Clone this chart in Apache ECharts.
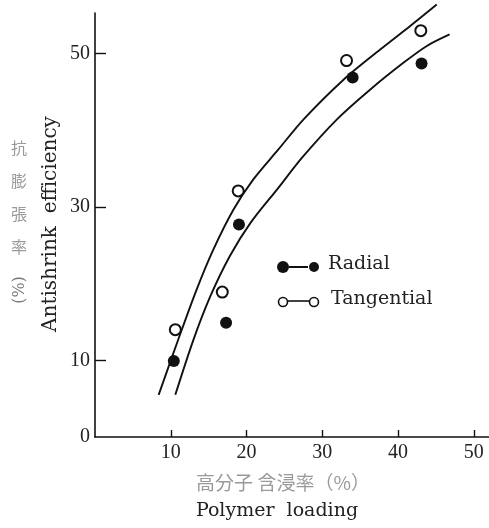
<!DOCTYPE html>
<html>
<head>
<meta charset="utf-8">
<script src="https://cdn.jsdelivr.net/npm/echarts@6/dist/echarts.min.js"></script>
<style>
  html, body { margin: 0; padding: 0; background: #fff; }
  #chart { width: 489px; height: 528px; }
</style>
</head>
<body>
<div id="chart"></div>
<script>
// Measured specimens: polymer loading (%) vs antishrink efficiency (%)
const radialLoading = [10.4, 17.3, 19.0, 34.0, 43.1];
const radialASE = [9.9, 14.9, 27.7, 46.9, 48.7];
const tangentialLoading = [10.6, 16.8, 18.9, 33.2, 43.0];
const tangentialASE = [14.0, 18.9, 32.1, 49.1, 53.0];

// Hand-drawn trend curves (tangential above, radial below)
const tangentialCurveX = [8.4, 11.2, 13.4, 15.6, 18.3, 20.9, 24.2, 27.5, 32.8, 37.6, 41.6, 45.1];
const tangentialCurveY = [5.5, 13.3, 19.2, 24.4, 29.7, 33.6, 37.5, 41.4, 46.6, 50.5, 53.6, 56.4];
const radialCurveX = [10.6, 13.0, 15.2, 17.8, 20.5, 24.2, 27.3, 31.9, 36.3, 40.7, 43.8, 46.8];
const radialCurveY = [5.5, 12.7, 18.3, 23.6, 27.9, 32.5, 36.4, 41.4, 45.3, 48.8, 51.0, 52.5];

// Axis ticks and labels
const xTicks = [10, 20, 30, 40, 50];
const yTicks = [10, 30, 50];
const yLabels = [0, 10, 30, 50];

const zip = (xs, ys) => xs.map((x, i) => [x, ys[i]]);

const SERIF = '"DejaVu Serif", "Liberation Serif", serif';
const CJK = '"Noto Sans CJK JP", "Noto Sans CJK SC", sans-serif';

const chart = echarts.init(document.getElementById('chart'), null, { renderer: 'canvas' });

const axisLineStyle = { color: '#111', width: 1.6 };

chart.setOption({
  backgroundColor: '#fff',
  animation: false,
  grid: { left: 95, right: 0, top: 13, bottom: 91, containLabel: false },
  xAxis: {
    type: 'value',
    min: 0,
    max: 52,
    axisLine: { show: true, lineStyle: axisLineStyle },
    axisTick: { show: true, inside: true, length: 7, customValues: xTicks, lineStyle: { color: '#111', width: 1.4 } },
    axisLabel: { customValues: xTicks, margin: 6, color: '#222', fontFamily: 'Liberation Serif', fontSize: 20 },
    splitLine: { show: false }
  },
  yAxis: {
    type: 'value',
    min: 0,
    max: 55.3,
    axisLine: { show: true, lineStyle: axisLineStyle },
    axisTick: { show: true, inside: true, length: 11, customValues: yTicks, lineStyle: { color: '#111', width: 1.4 } },
    axisLabel: { customValues: yLabels, margin: 5, color: '#222', fontFamily: 'Liberation Serif', fontSize: 20 },
    splitLine: { show: false }
  },
  series: [
    {
      name: 'Tangential curve',
      type: 'line',
      data: zip(tangentialCurveX, tangentialCurveY),
      smooth: 0.3,
      showSymbol: false,
      clip: false,
      lineStyle: { color: '#111', width: 1.9 },
      z: 2
    },
    {
      name: 'Radial curve',
      type: 'line',
      data: zip(radialCurveX, radialCurveY),
      smooth: 0.3,
      showSymbol: false,
      clip: false,
      lineStyle: { color: '#111', width: 1.9 },
      z: 2
    },
    {
      name: 'Radial',
      type: 'scatter',
      data: zip(radialLoading, radialASE),
      symbol: 'circle',
      symbolSize: 12,
      itemStyle: { color: '#111', opacity: 1 },
      z: 3
    },
    {
      name: 'Tangential',
      type: 'scatter',
      data: zip(tangentialLoading, tangentialASE),
      symbol: 'circle',
      symbolSize: 11,
      itemStyle: { color: '#fff', borderColor: '#111', borderWidth: 2, opacity: 1 },
      z: 3
    }
  ],
  graphic: [
    // Key: filled pair for radial, open pair for tangential
    { type: 'circle', shape: { cx: 283, cy: 267, r: 6 }, style: { fill: '#111' } },
    { type: 'line', shape: { x1: 289, y1: 267, x2: 308, y2: 267 }, style: { stroke: '#111', lineWidth: 2 } },
    { type: 'circle', shape: { cx: 314, cy: 267, r: 5 }, style: { fill: '#111' } },
    { type: 'text', left: 328, top: 255, style: { text: 'Radial', font: '19px ' + SERIF, fill: '#222' } },
    { type: 'circle', shape: { cx: 283, cy: 302, r: 4.5 }, style: { fill: '#fff', stroke: '#111', lineWidth: 1.6 } },
    { type: 'line', shape: { x1: 288, y1: 301, x2: 309, y2: 301 }, style: { stroke: '#111', lineWidth: 1.6 } },
    { type: 'circle', shape: { cx: 314, cy: 302, r: 4.5 }, style: { fill: '#fff', stroke: '#111', lineWidth: 1.6 } },
    { type: 'text', left: 331, top: 290, style: { text: 'Tangential', font: '19px ' + SERIF, fill: '#222' } },

    // Y axis titles
    { type: 'text', left: 11, top: 131, style: { text: '抗\n膨\n張\n率', font: '16px ' + CJK, fill: '#9a9a9a', lineHeight: 33 } },
    { type: 'text', x: 20, y: 290, rotation: Math.PI / 2, style: { text: '(%)', font: '16px ' + SERIF, fill: '#777', align: 'center', verticalAlign: 'middle' } },
    { type: 'text', x: 51, y: 224, rotation: Math.PI / 2, style: { text: 'Antishrink  efficiency', font: '20px ' + SERIF, fill: '#222', align: 'center', verticalAlign: 'middle' } },

    // X axis titles
    { type: 'text', x: 283, y: 483, style: { text: '高分子 含浸率（%）', font: '19px ' + CJK, fill: '#999', align: 'center', verticalAlign: 'middle' } },
    { type: 'text', x: 277, y: 511, style: { text: 'Polymer  loading', font: '19px ' + SERIF, fill: '#222', align: 'center', verticalAlign: 'middle' } }
  ]
});
</script>
</body>
</html>
